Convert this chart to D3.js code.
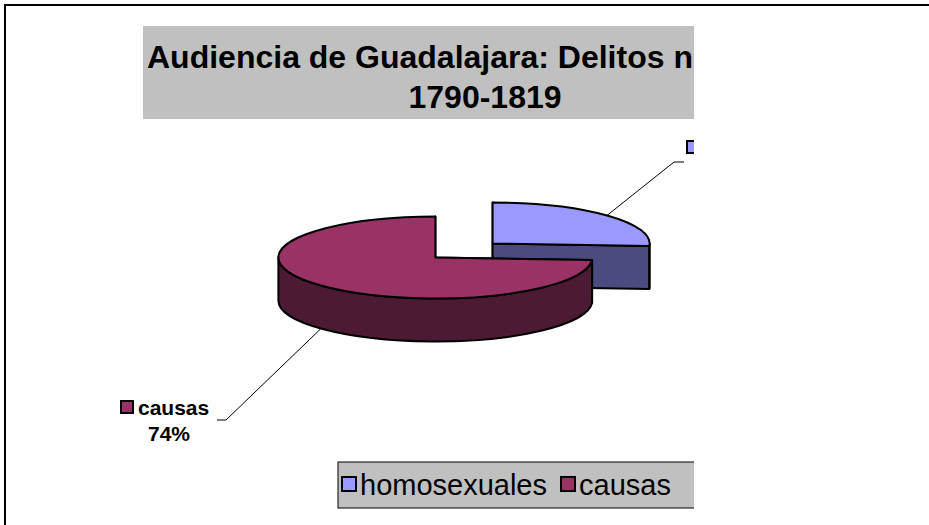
<!DOCTYPE html>
<html>
<head>
<meta charset="utf-8">
<script src="https://cdnjs.cloudflare.com/ajax/libs/d3/7.8.5/d3.min.js"></script>
<style>
  body { margin: 0; background: #fff; }
  svg { display: block; }
  text { font-family: Arial, "Liberation Sans", sans-serif; }
</style>
</head>
<body>
<div id="chart"></div>
<script>
// data
const categories = ["homosexuales", "causas"];
const values = [26, 74];
const titleLines = ["Audiencia de Guadalajara: Delitos nefandos", "1790-1819"];
const topColors = ["#9999FF", "#993366"];
const sideColors = ["#4B4B80", "#4D1A33"];

const width = 929, height = 525;

const svg = d3.select("#chart").append("svg")
    .attr("width", width)
    .attr("height", height);

// outer frame (runs off the right and bottom of the window)
svg.append("rect")
    .attr("x", 5).attr("y", 5)
    .attr("width", 940).attr("height", 540)
    .attr("fill", "none")
    .attr("stroke", "#000")
    .attr("stroke-width", 2);

// the chart area is cut off at the right
svg.append("clipPath").attr("id", "cut")
    .append("rect")
    .attr("x", 0).attr("y", 0)
    .attr("width", 694).attr("height", height);

var g = svg.append("g").attr("clip-path", "url(#cut)");

// title
g.append("rect")
    .attr("x", 143).attr("y", 26)
    .attr("width", 600).attr("height", 93)
    .attr("fill", "#C0C0C0");

g.append("text")
    .attr("x", 147).attr("y", 68)
    .style("font-size", "32px")
    .style("font-weight", "bold")
    .text(titleLines[0]);

g.append("text")
    .attr("x", 485).attr("y", 108)
    .attr("text-anchor", "middle")
    .style("font-size", "32px")
    .style("font-weight", "bold")
    .text(titleLines[1]);

// 3d pie
const cx = 464, cy = 250.5, rx = 157, ry = 41, depth = 43, explode = 0.25;

const pie = d3.pie().sort(null).value(d => d)(values);
const total = d3.sum(values);
const pct = d3.format(".0%");

function pt(c, a, dy) {
    return [c[0] + rx * Math.sin(a), c[1] - ry * Math.cos(a) + (dy || 0)];
}

pie.forEach(function (s, i) {
    let mid = (s.startAngle + s.endAngle) / 2;
    s.c = [cx + explode * rx * Math.sin(mid), cy - explode * ry * Math.cos(mid)];
    s.mid = mid;
    s.i = i;
});

const pieG = g.append("g")
    .attr("stroke", "#000")
    .attr("stroke-width", 2)
    .attr("stroke-linejoin", "round");

// back slices first (the one whose centre is higher)
const order = pie.slice().sort((a, b) => a.c[1] - b.c[1]);

order.forEach(function (s) {
    let c = s.c, a0 = s.startAngle, a1 = s.endAngle;
    let sg = pieG.append("g");

    // radial cut faces
    [a0, a1].forEach(function (a) {
        let p = pt(c, a);
        sg.append("path")
            .attr("d", "M" + c + "L" + p + "L" + pt(c, a, depth) + "L" + [c[0], c[1] + depth] + "Z")
            .attr("fill", sideColors[s.i]);
    });

    // outer curved side, only the front half shows
    let f0 = Math.max(a0, Math.PI / 2), f1 = Math.min(a1, Math.PI * 1.5);
    if (f1 > f0) {
        let large = (f1 - f0) > Math.PI ? 1 : 0;
        sg.append("path")
            .attr("d", "M" + pt(c, f0) +
                "A" + rx + " " + ry + " 0 " + large + " 1 " + pt(c, f1) +
                "L" + pt(c, f1, depth) +
                "A" + rx + " " + ry + " 0 " + large + " 0 " + pt(c, f0, depth) + "Z")
            .attr("fill", sideColors[s.i]);
    }

    // top face
    let large = (a1 - a0) > Math.PI ? 1 : 0;
    sg.append("path")
        .attr("d", "M" + c + "L" + pt(c, a0) +
            "A" + rx + " " + ry + " 0 " + large + " 1 " + pt(c, a1) + "Z")
        .attr("fill", topColors[s.i]);
});

// data labels with leader lines
const labelPos = [
    { elbow: [674, 162], end: [684, 162], box: [687, 141] },
    { elbow: [226, 420], end: [217, 420], box: [121, 401] }
];

pie.forEach(function (s, i) {
    let front = Math.cos(s.mid) < 0;
    let start = pt(s.c, s.mid, front ? depth : 0);
    let lp = labelPos[i];
    g.append("polyline")
        .attr("points", [start, lp.elbow, lp.end].join(" "))
        .attr("fill", "none")
        .attr("stroke", "#000")
        .attr("stroke-width", 1);

    g.append("rect")
        .attr("x", lp.box[0]).attr("y", lp.box[1])
        .attr("width", 12).attr("height", 12)
        .attr("fill", topColors[i])
        .attr("stroke", "#000")
        .attr("stroke-width", 2);

    let t = g.append("text")
        .style("font-size", "21px")
        .style("font-weight", "bold");
    t.append("tspan")
        .attr("x", lp.box[0] + 17).attr("y", lp.box[1] + 14)
        .text(categories[i]);
    t.append("tspan")
        .attr("x", lp.box[0] + 48).attr("y", lp.box[1] + 40)
        .attr("text-anchor", "middle")
        .text(pct(s.data / total));
});

// legend
const legend = g.append("g");
legend.append("rect")
    .attr("x", 338).attr("y", 462)
    .attr("width", 420).attr("height", 46)
    .attr("fill", "#C0C0C0")
    .attr("stroke", "#000")
    .attr("stroke-width", 1);

let lx = 342;
categories.forEach(function (c, i) {
    legend.append("rect")
        .attr("x", lx).attr("y", 477)
        .attr("width", 14).attr("height", 14)
        .attr("fill", topColors[i])
        .attr("stroke", "#000")
        .attr("stroke-width", 2);
    let t = legend.append("text")
        .attr("x", lx + 18).attr("y", 495)
        .style("font-size", "29px")
        .text(c);
    lx += 18 + t.node().getComputedTextLength() + 14;
});
</script>
</body>
</html>
